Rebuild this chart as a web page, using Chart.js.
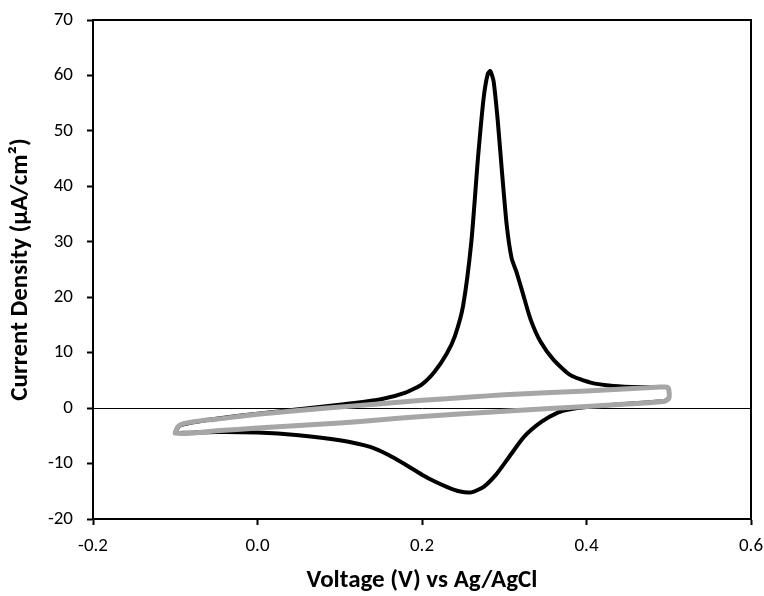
<!DOCTYPE html>
<html>
<head>
<meta charset="utf-8">
<script src="https://cdn.jsdelivr.net/npm/chart.js@4/dist/chart.umd.min.js"></script>
<style>
  html, body { margin: 0; padding: 0; background: #fff; }
  #wrap { width: 764px; height: 596px; }
</style>
</head>
<body>
<div id="wrap"><canvas id="cvChart"></canvas></div>
<script>
// black scan: forward branch to 0.5 V, then back
const blackVoltage = [-0.1, -0.095, -0.08, -0.05, 0, 0.05, 0.1, 0.15, 0.18, 0.2, 0.215, 0.23, 0.24, 0.25, 0.26, 0.268, 0.275, 0.28, 0.283, 0.287, 0.292, 0.297, 0.303, 0.309, 0.315, 0.322, 0.332, 0.344, 0.36, 0.38, 0.405, 0.433, 0.466, 0.497, 0.5, 0.5, 0.495,
  0.45, 0.4, 0.38, 0.365, 0.345, 0.324, 0.305, 0.29, 0.275, 0.26, 0.245, 0.23, 0.215, 0.2, 0.18, 0.16, 0.137, 0.1, 0.05, 0, -0.05, -0.1];
const blackCurrent = [-4.4, -3.2, -2.6, -1.9, -1.0, -0.2, 0.6, 1.6, 2.8, 4.3, 6.5, 9.8, 13, 18.5, 30, 45, 56, 60.3, 60.8, 59, 52, 43, 33, 27, 24.5, 21, 16, 12, 8.7, 6.0, 4.6, 4.0, 3.8, 3.8, 3.4, 1.8, 1.3,
  0.8, 0.2, -0.2, -0.8, -2.5, -5.2, -9, -12, -14.2, -15.2, -15.0, -14.2, -13.2, -12.0, -10.2, -8.5, -7.0, -5.8, -4.9, -4.4, -4.3, -4.5];

// grey scan
const greyVoltage = [-0.1, -0.097, -0.09, -0.07, -0.05, 0, 0.085, 0.15, 0.2, 0.259, 0.3, 0.4, 0.49, 0.498, 0.5, 0.5, 0.494,
  0.4, 0.3, 0.2, 0.15, 0.1, 0, -0.05, -0.09, -0.1];
const greyCurrent = [-4.4, -3.4, -2.8, -2.3, -2.0, -1.1, 0, 0.8, 1.4, 2.0, 2.4, 3.1, 3.8, 3.8, 3.4, 1.7, 1.2,
  0.3, -0.55, -1.5, -2.1, -2.7, -3.6, -4.1, -4.6, -4.5];

const xTicks = [-0.2, 0.0, 0.2, 0.4, 0.6];
const yTicks = [-20, -10, 0, 10, 20, 30, 40, 50, 60, 70];

function toPoints(xs, ys) {
    return xs.map(function(x, i) { return { x: x, y: ys[i] }; });
}

const FONT = "Calibri, Carlito, Lato, 'Liberation Sans', sans-serif";

// full box round the plot area
const frame = {
    id: 'frame',
    afterDraw(chart) {
        const a = chart.chartArea;
        const ctx = chart.ctx;
        ctx.save();
        ctx.strokeStyle = '#000';
        ctx.lineWidth = 2;
        ctx.strokeRect(a.left, a.top, a.right - a.left, a.bottom - a.top);
        ctx.restore();
    }
};

const ctx = document.getElementById('cvChart').getContext('2d');
new Chart(ctx, {
    type: 'scatter',
    data: {
        datasets: [{
            data: toPoints(greyVoltage, greyCurrent),
            showLine: true,
            borderColor: '#a6a6a6',
            borderWidth: 5,
            borderJoinStyle: 'round',
            borderCapStyle: 'round',
            tension: 0.2,
            pointRadius: 0
        }, {
            data: toPoints(blackVoltage, blackCurrent),
            showLine: true,
            borderColor: '#000',
            borderWidth: 4,
            borderJoinStyle: 'round',
            borderCapStyle: 'round',
            tension: 0.2,
            pointRadius: 0
        }]
    },
    options: {
        responsive: true,
        maintainAspectRatio: false,
        animation: false,
        layout: { padding: { top: 20, right: 13, left: 0, bottom: 0 } },
        plugins: {
            legend: { display: false },
            tooltip: { enabled: false }
        },
        scales: {
            x: {
                type: 'linear',
                min: -0.2,
                max: 0.6,
                afterFit: function(scale) {
                    scale.height = 77;
                    scale.paddingLeft = 0;
                    scale.paddingRight = 0;
                },
                afterBuildTicks: function(scale) {
                    scale.ticks = xTicks.map(function(v) { return { value: v }; });
                },
                ticks: {
                    color: '#000',
                    font: { family: FONT, size: 19 },
                    padding: 10,
                    maxRotation: 0,
                    callback: function(v) { return v.toFixed(1); }
                },
                grid: {
                    drawOnChartArea: false,
                    drawTicks: true,
                    tickLength: 6,
                    tickWidth: 2,
                    tickColor: '#000'
                },
                border: { color: '#000', width: 2 },
                title: {
                    display: true,
                    text: 'Voltage (V) vs Ag/AgCl',
                    color: '#000',
                    font: { family: FONT, size: 25, weight: 'bold' },
                    padding: { top: 0, bottom: 0 }
                }
            },
            y: {
                type: 'linear',
                min: -20,
                max: 70,
                afterFit: function(scale) {
                    scale.width = 93;
                    scale.paddingTop = 0;
                    scale.paddingBottom = 0;
                },
                afterBuildTicks: function(scale) {
                    scale.ticks = yTicks.map(function(v) { return { value: v }; });
                },
                ticks: {
                    color: '#000',
                    font: { family: FONT, size: 19 },
                    padding: 14
                },
                grid: {
                    color: function(c) { return c.tick && c.tick.value === 0 ? '#000' : 'rgba(0,0,0,0)'; },
                    lineWidth: 1,
                    drawTicks: true,
                    tickLength: 6,
                    tickWidth: 2,
                    tickColor: '#000'
                },
                border: { color: '#000', width: 2 },
                title: {
                    display: true,
                    text: 'Current Density (µA/cm²)',
                    color: '#000',
                    font: { family: FONT, size: 25, weight: 'bold' },
                    padding: { top: 6, bottom: 0 }
                }
            }
        }
    },
    plugins: [frame]
});
</script>
</body>
</html>
